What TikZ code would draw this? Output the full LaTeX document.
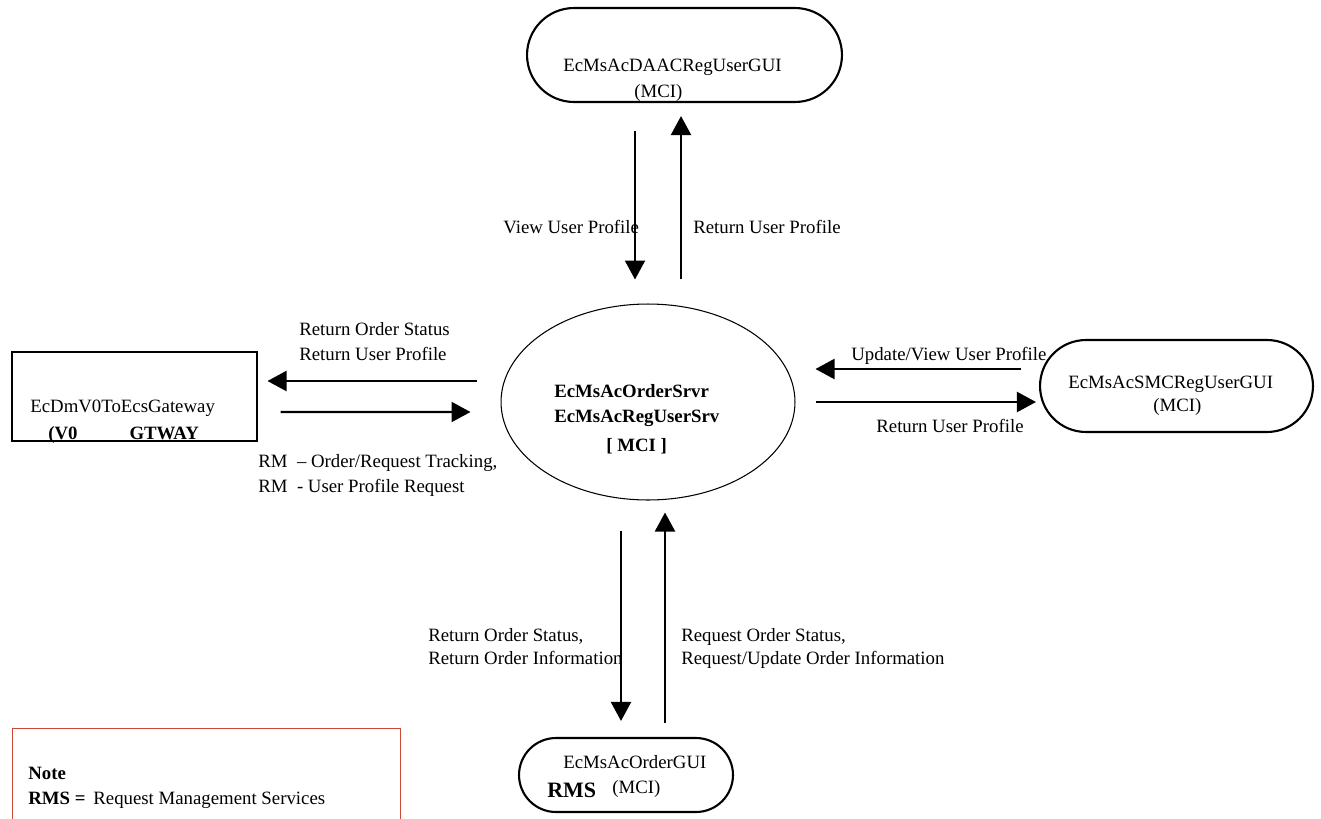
\documentclass[tikz,border=0pt]{standalone}
\usepackage{fontspec}
\setmainfont{Liberation Serif}
\usetikzlibrary{arrows.meta, calc, shapes.misc, shapes.geometric}

\definecolor{notered}{RGB}{204,72,52}

\tikzset{
  pill/.style={rounded rectangle, draw, line width=1.2pt, inner sep=0pt},
  flow/.style={line width=1.25pt, -{Triangle[length=0.38cm, width=0.4cm]}},
  txt/.style={anchor=base west, inner sep=0pt, font=\fontsize{10.7}{13.7}\selectfont, align=left},
}

\begin{document}
\begin{tikzpicture}[x=0.02cm, y=-0.02cm]
  \useasboundingbox (0,0) rectangle (1321,818);

  \node[pill, minimum width=6.3cm, minimum height=1.88cm] (daac) at (684.5,55) {};
  \node[ellipse, draw, line width=0.6pt, minimum width=5.88cm, minimum height=3.92cm, inner sep=0pt] (srv) at (648,402) {};
  \node[rectangle, draw, line width=0.6pt, minimum width=4.9cm, minimum height=1.78cm, inner sep=0pt] (gw) at (134.5,396.5) {};
  \node[pill, minimum width=5.46cm, minimum height=1.84cm] (smc) at (1176.5,386) {};
  \node[pill, minimum width=4.28cm, minimum height=1.48cm] (ordgui) at (626,775) {};
  \node[rectangle, draw=notered, line width=0.8pt, minimum width=7.76cm, minimum height=2.2cm, anchor=north west, inner sep=0pt] (note) at (12,728) {};

  \node[txt] (daacname) at (563,71) {EcMsAcDAACRegUserGUI};
  \node[txt] (daacmci) at (634,97) {(MCI)};
  \node[txt] (srvname) at (554,422) {\textbf{EcMsAcOrderSrvr}\\\textbf{EcMsAcRegUserSrv}};
  \node[txt] (srvmci) at (606,451) {\textbf{[ MCI ]}};
  \node[txt] (gwname) at (30,412) {EcDmV0ToEcsGateway};
  \node[txt] (gwtag) at (48,439) {\textbf{(V0}\hspace{1.04cm}\textbf{GTWAY}};
  \node[txt] (smcname) at (1068,388) {EcMsAcSMCRegUserGUI};
  \node[txt] (smcmci) at (1153,411) {(MCI)};
  \node[txt] (ordname) at (563,768) {EcMsAcOrderGUI};
  \node[txt, font=\fontsize{12.5}{14}\selectfont\bfseries] (ordrms) at (547,797) {RMS};
  \node[txt] (ordmci) at (612,793) {(MCI)};
  \node[txt] (notetxt) at (28,804) {\textbf{Note}\\\textbf{RMS =}\,\ Request Management Services};

  \draw[flow] ($(daac.south)+(-49.5,28)$) -- ($(srv.north)+(-13,-24)$);
  \draw[flow] ($(srv.north)+(33,-24)$) -- ($(daac.south)+(-3.5,13)$);
  \draw[flow] ($(srv.west)+(-24,-21)$) -- ($(gw.east)+(10,-15.5)$);
  \draw[flow] ($(gw.east)+(23,15.5)$) -- ($(srv.west)+(-30,10)$);
  \draw[flow] ($(smc.west)+(-18,-17)$) -- ($(srv.east)+(20,-33)$);
  \draw[flow] ($(srv.east)+(20,0)$) -- ($(smc.west)+(-3,16)$);
  \draw[flow] ($(srv.south)+(-27,30)$) -- ($(ordgui.north)+(-5,-16)$);
  \draw[flow] ($(ordgui.north)+(39,-14)$) -- ($(srv.south)+(17,12)$);

  \node[txt] (viewlbl) at (503,233) {View User Profile};
  \node[txt] (retlbl) at (693,233) {Return User Profile};
  \node[txt] (gwback) at (299,360) {Return Order Status\\Return User Profile};
  \node[txt] (gwreq) at (258,492) {RM \ -- Order/Request Tracking,\\RM \ - User Profile Request};
  \node[txt] (smcreq) at (851,360) {Update/View User Profile};
  \node[txt] (smcback) at (876,432) {Return User Profile};
  \node[txt, font=\fontsize{10.7}{12.6}\selectfont] (ordback) at (428,664) {Return Order Status,\\Return Order Information};
  \node[txt, font=\fontsize{10.7}{12.6}\selectfont] (ordreq) at (681,664) {Request Order Status,\\Request/Update Order Information};
\end{tikzpicture}
\end{document}
